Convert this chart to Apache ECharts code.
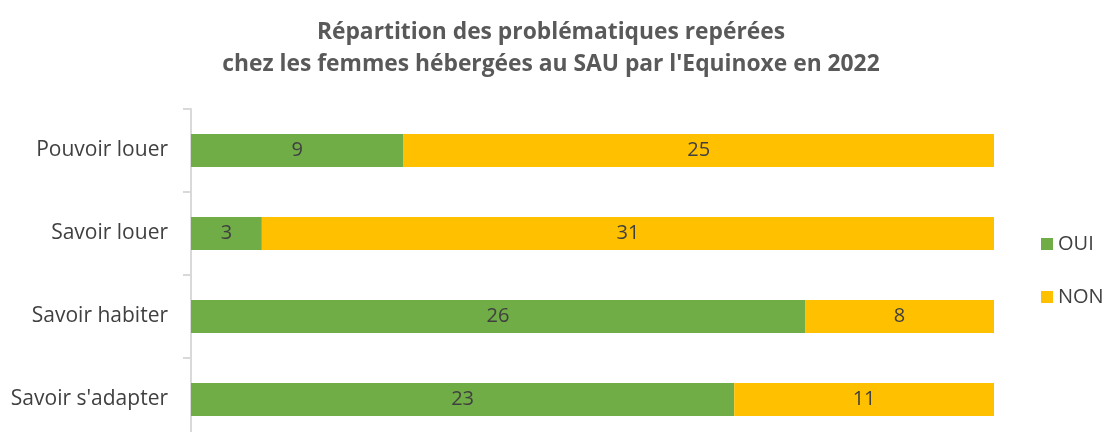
<!DOCTYPE html>
<html>
<head>
<meta charset="utf-8">
<script src="https://cdn.jsdelivr.net/npm/echarts@6/dist/echarts.min.js"></script>
<style>
  html, body { margin: 0; padding: 0; background: #fff; }
  #chart { width: 1102px; height: 432px; }
</style>
</head>
<body>
<div id="chart"></div>
<script>
// données
var categories = ['Pouvoir louer', 'Savoir louer', 'Savoir habiter', "Savoir s'adapter"]
var oui = [9, 3, 26, 23]
var non = [25, 31, 8, 11]

var chart = echarts.init(document.getElementById('chart'))
var font = '"Open Sans", sans-serif'

var option = {
  animation: false,
  title: {
    text: "Répartition des problématiques repérées\nchez les femmes hébergées au SAU par l'Equinoxe en 2022",
    left: 'center',
    top: 12,
    textStyle: {
      fontFamily: font,
      fontSize: 22.8,
      fontWeight: 'bold',
      color: '#595959',
      lineHeight: 32
    }
  },
  legend: {
    orient: 'vertical',
    left: 1036,
    top: 229,
    itemWidth: 12,
    itemHeight: 12,
    itemGap: 33,
    icon: 'rect',
    selectedMode: false,
    textStyle: { fontFamily: font, fontSize: 20, color: '#404040' },
    data: ['OUI', 'NON']
  },
  grid: {
    left: 191,
    top: 109,
    width: 803,
    height: 332,
    outerBoundsMode: 'none'
  },
  xAxis: {
    type: 'value',
    min: 0,
    max: 34,
    show: false
  },
  yAxis: {
    type: 'category',
    inverse: true,
    data: categories,
    axisLine: { show: true, lineStyle: { color: '#d9d9d9', width: 2 } },
    axisTick: { show: true, length: 8, lineStyle: { color: '#d9d9d9', width: 2 } },
    axisLabel: { fontFamily: font, fontSize: 21, color: '#404040', margin: 23 },
    splitLine: { show: false }
  },
  series: [{
    name: 'OUI',
    type: 'bar',
    stack: 'total',
    barWidth: 33,
    data: oui,
    itemStyle: { color: '#70AD47' },
    label: { show: true, position: 'inside', fontFamily: font, fontSize: 20, color: '#404040' }
  }, {
    name: 'NON',
    type: 'bar',
    stack: 'total',
    barWidth: 33,
    data: non,
    itemStyle: { color: '#FFC000' },
    label: { show: true, position: 'inside', fontFamily: font, fontSize: 20, color: '#404040' }
  }]
}
chart.setOption(option)
</script>
</body>
</html>
